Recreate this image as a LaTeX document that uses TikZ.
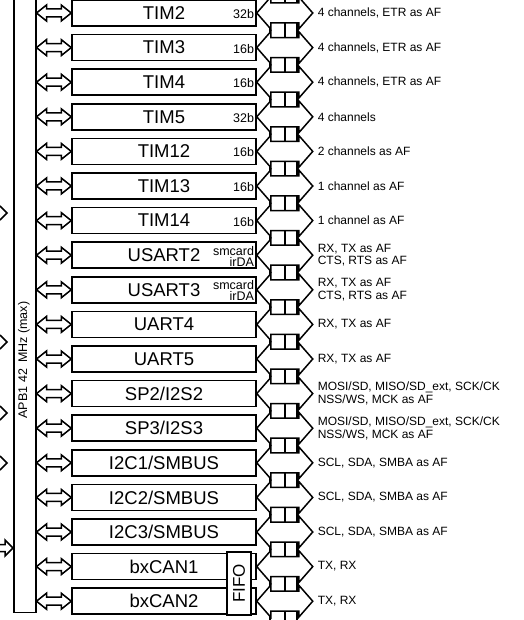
\documentclass[tikz,border=0pt]{standalone}
\usepackage{fontspec}
\setmainfont{Liberation Sans}
\usetikzlibrary{calc}
\tikzset{
  every picture/.style={line width=1.5pt},
  box/.style={draw, fill=white, minimum width=184, minimum height=26, inner sep=0pt, font=\fontsize{18.5}{20}\selectfont},
  busbar/.style={draw, fill=white, minimum width=22, inner sep=0pt},
  fifo/.style={draw, fill=white, rotate=90, minimum width=63, minimum height=24, inner sep=0pt, font=\fontsize{17}{18}\selectfont},
  tag/.style={anchor=east, align=right, inner sep=0pt, font=\fontsize{12.5}{11}\selectfont},
  note/.style={anchor=west, align=left, inner sep=0pt, font=\fontsize{12}{12.5}\selectfont},
  hollow/.style={draw, fill=white, line width=1.5pt, line join=miter},
}
% hollow double arrow: from, to, shaft half, head half, head length
\newcommand{\hollowarrow}[5]{%
  \draw[hollow] let \p1=(#1), \p2=(#2) in
    (\x1,\y1) -- (\x1+#5,\y1+#4) -- (\x1+#5,\y1+#3) -- (\x2-#5,\y1+#3) -- (\x2-#5,\y1+#4)
    -- (\x2,\y1) -- (\x2-#5,\y1-#4) -- (\x2-#5,\y1-#3) -- (\x1+#5,\y1-#3) -- (\x1+#5,\y1-#4) -- cycle;}

\begin{document}
\begin{tikzpicture}[x=1pt, y=-1pt]
  \clip (0,0) rectangle (523,620);
  % right bus
  \draw (270,-10) rectangle (297,630);
  \draw (285,-10) -- (285,630);
  % left bus
  \node[busbar, minimum height=640, anchor=south west] (apb) at (13,613) {};
  \node[rotate=90, font=\fontsize{12.5}{13}\selectfont] (apbtxt) at (24,360) {APB1 42\enspace MHz (max)};
  % incoming arrows
  \draw (0,206) -- (7,213) -- (0,220);
  \draw (0,335) -- (7,342) -- (0,349);
  \draw (0,406) -- (7,413) -- (0,420);
  \draw (0,456) -- (7,463) -- (0,470);
  \draw[line join=miter] (-2,544.5) -- (5,544.5) -- (5,540) -- (13,548) -- (5,556) -- (5,551.5) -- (-2,551.5);

  \node[box] (b1)  at (164,13)    {TIM2};
  \node[box] (b2)  at (164,47.6)  {TIM3};
  \node[box] (b3)  at (164,82.2)  {TIM4};
  \node[box] (b4)  at (164,116.8) {TIM5};
  \node[box] (b5)  at (164,151.4) {TIM12};
  \node[box] (b6)  at (164,186)   {TIM13};
  \node[box] (b7)  at (164,220.6) {TIM14};
  \node[box] (b8)  at (164,255.2) {USART2};
  \node[box] (b9)  at (164,289.8) {USART3};
  \node[box] (b10) at (164,324.4) {UART4};
  \node[box] (b11) at (164,359)   {UART5};
  \node[box] (b12) at (164,393.6) {SP2/I2S2};
  \node[box] (b13) at (164,428.2) {SP3/I2S3};
  \node[box] (b14) at (164,462.8) {I2C1/SMBUS};
  \node[box] (b15) at (164,497.4) {I2C2/SMBUS};
  \node[box] (b16) at (164,532)   {I2C3/SMBUS};
  \node[box] (b17) at (164,566.6) {bxCAN1};
  \node[box] (b18) at (164,601.2) {bxCAN2};
  \node[fifo] (fifo) at (239,583.5) {FIFO};

  \node[tag] (w1) at ($(b1.east)+(-2,1)$) {32b};
  \node[tag] (w2) at ($(b2.east)+(-2,1)$) {16b};
  \node[tag] (w3) at ($(b3.east)+(-2,1)$) {16b};
  \node[tag] (w4) at ($(b4.east)+(-2,1)$) {32b};
  \node[tag] (w5) at ($(b5.east)+(-2,1)$) {16b};
  \node[tag] (w6) at ($(b6.east)+(-2,1)$) {16b};
  \node[tag] (w7) at ($(b7.east)+(-2,1)$) {16b};
  \node[tag] (w8) at ($(b8.east)+(-2,1)$) {smcard\\irDA};
  \node[tag] (w9) at ($(b9.east)+(-2,1)$) {smcard\\irDA};

  \node[note] (t1)  at (317,13)    {4 channels, ETR as AF};
  \node[note] (t2)  at (317,47.6)  {4 channels, ETR as AF};
  \node[note] (t3)  at (317,82.2)  {4 channels, ETR as AF};
  \node[note] (t4)  at (317,116.8) {4 channels};
  \node[note] (t5)  at (317,151.4) {2 channels as AF};
  \node[note] (t6)  at (317,186)   {1 channel as AF};
  \node[note] (t7)  at (317,220.6) {1 channel as AF};
  \node[note] (t8)  at (317,255.2) {RX, TX as AF\\CTS, RTS as AF};
  \node[note] (t9)  at (317,289.8) {RX, TX as AF\\CTS, RTS as AF};
  \node[note] (t10) at (317,324.4) {RX, TX as AF};
  \node[note] (t11) at (317,359)   {RX, TX as AF};
  \node[note] (t12) at (317,393.6) {MOSI/SD, MISO/SD\_ext, SCK/CK\\NSS/WS, MCK as AF};
  \node[note] (t13) at (317,428.2) {MOSI/SD, MISO/SD\_ext, SCK/CK\\NSS/WS, MCK as AF};
  \node[note] (t14) at (317,462.8) {SCL, SDA, SMBA as AF};
  \node[note] (t15) at (317,497.4) {SCL, SDA, SMBA as AF};
  \node[note] (t16) at (317,532)   {SCL, SDA, SMBA as AF};
  \node[note] (t17) at (317,566.6) {TX, RX};
  \node[note] (t18) at (317,601.2) {TX, RX};

  \foreach \i in {1,...,18} {
    \coordinate (e\i) at ($(b\i.east)+(56,0)$);
    \hollowarrow{apb.east |- b\i}{b\i.west}{4pt}{8pt}{10pt}
    \hollowarrow{b\i.east}{e\i}{10pt}{16pt}{14pt}
  }
\end{tikzpicture}
\end{document}
